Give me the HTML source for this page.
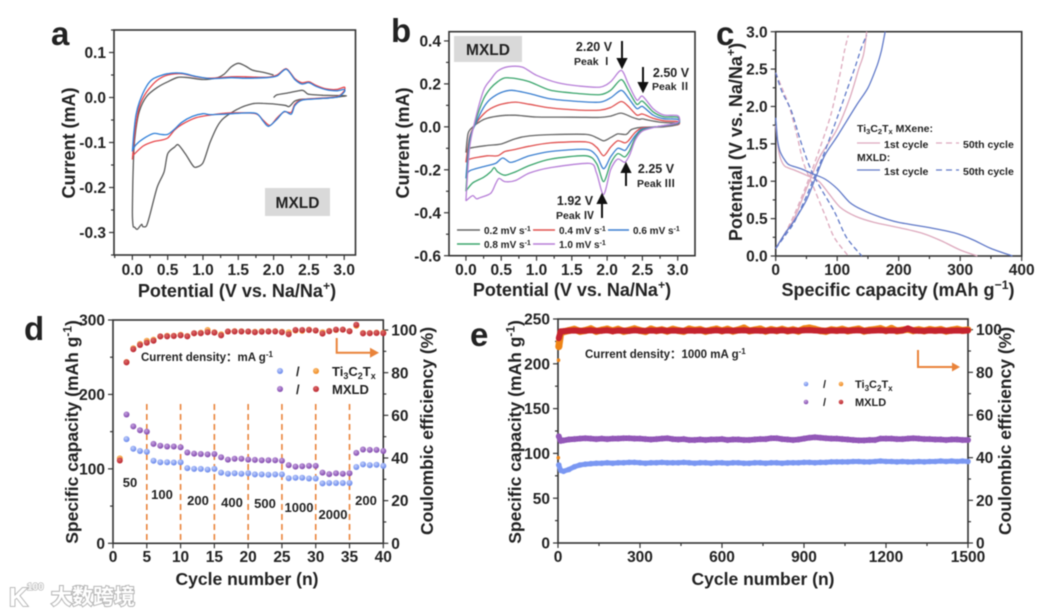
<!DOCTYPE html>
<html lang="en">
<head>
<meta charset="utf-8">
<title>MXLD electrochemical performance</title>
<style>
html,body{margin:0;padding:0;background:#fff;width:1060px;height:615px;overflow:hidden}
svg{display:block;filter:blur(.45px)}
text{font-family:"Liberation Sans","Noto Sans CJK SC",sans-serif;font-weight:bold;fill:#222}
</style>
</head>
<body>
<svg id="fig" xmlns="http://www.w3.org/2000/svg" width="1060" height="615" viewBox="0 0 1060 615">
<defs>
<radialGradient id="gBlue" cx=".4" cy=".35" r=".7"><stop offset="0" stop-color="#c3d0fb"/><stop offset="1" stop-color="#5f80ea"/></radialGradient>
<radialGradient id="gPurple" cx=".4" cy=".35" r=".7"><stop offset="0" stop-color="#c6a3e0"/><stop offset="1" stop-color="#7a3fa8"/></radialGradient>
<radialGradient id="gOrange" cx=".4" cy=".35" r=".7"><stop offset="0" stop-color="#fbc07a"/><stop offset="1" stop-color="#ee8416"/></radialGradient>
<radialGradient id="gRed" cx=".4" cy=".35" r=".7"><stop offset="0" stop-color="#dc6a6a"/><stop offset="1" stop-color="#b81f29"/></radialGradient>
</defs>

<g>
<text x="51" y="45" font-size="33">a</text>
<text x="391" y="42" font-size="33">b</text>
<text x="716" y="45" font-size="33">c</text>
<text x="24" y="340" font-size="33">d</text>
<text x="470" y="346" font-size="33">e</text>
</g>

<g id="pa"></g>
<g id="pb"></g>
<g id="pc"></g>
<g id="pd"></g>
<g id="pe"></g>

<g>
<rect x="265" y="188" width="65" height="28" fill="#d9d9d9"/>
<text x="297.500" y="208" font-size="15.500" text-anchor="middle">MXLD</text>
</g>

<g>
<rect x="454" y="36" width="68" height="26" fill="#d9d9d9"/>
<text x="488" y="55" font-size="15.500" text-anchor="middle">MXLD</text>
<text x="594" y="51" font-size="12.500" text-anchor="middle">2.20 V</text>
<text x="593" y="65" font-size="10.500" text-anchor="middle">Peak Ⅰ</text>
<path d="M622 41V60M618 59L622 67L626 59Z" stroke="#111" stroke-width="2" fill="#111"/>
<text x="671" y="77" font-size="12.500" text-anchor="middle">2.50 V</text>
<text x="671" y="90" font-size="10.500" text-anchor="middle">Peak Ⅱ</text>
<path d="M643 67V84M639 83L643 91L647 83Z" stroke="#111" stroke-width="2" fill="#111"/>
<text x="656" y="173" font-size="12.500" text-anchor="middle">2.25 V</text>
<text x="656" y="187" font-size="10.500" text-anchor="middle">Peak Ⅲ</text>
<path d="M626 186V171M622 172L626 164L630 172Z" stroke="#111" stroke-width="2" fill="#111"/>
<text x="575" y="205" font-size="12.500" text-anchor="middle">1.92 V</text>
<text x="575" y="219" font-size="10.500" text-anchor="middle">Peak Ⅳ</text>
<path d="M602 218V202M598 203L602 195L606 203Z" stroke="#111" stroke-width="2" fill="#111"/>
<g font-size="10">
<line x1="457" x2="480" y1="230" y2="230" stroke="#666" stroke-width="1.500"/>
<text x="484" y="234" font-size="10">0.2 mV s<tspan dy="-3" font-size="7">-1</tspan></text>
<line x1="533" x2="555" y1="230" y2="230" stroke="#e0504f" stroke-width="1.500"/>
<text x="559" y="234" font-size="10">0.4 mV s<tspan dy="-3" font-size="7">-1</tspan></text>
<line x1="608" x2="629" y1="230" y2="230" stroke="#3a7fd0" stroke-width="1.500"/>
<text x="633" y="234" font-size="10">0.6 mV s<tspan dy="-3" font-size="7">-1</tspan></text>
<line x1="457" x2="480" y1="244" y2="244" stroke="#3aa56c" stroke-width="1.500"/>
<text x="484" y="248" font-size="10">0.8 mV s<tspan dy="-3" font-size="7">-1</tspan></text>
<line x1="533" x2="555" y1="244" y2="244" stroke="#b77fd8" stroke-width="1.500"/>
<text x="559" y="248" font-size="10">1.0 mV s<tspan dy="-3" font-size="7">-1</tspan></text>
</g>
</g>

<g>
<text x="857" y="132" font-size="10.500">Ti<tspan dy="2" font-size="7.500">3</tspan><tspan dy="-2">C</tspan><tspan dy="2" font-size="7.500">2</tspan><tspan dy="-2">T</tspan><tspan dy="2" font-size="7.500">x</tspan><tspan dy="-2"> MXene:</tspan></text>
<line x1="857" x2="880" y1="143" y2="143" stroke="#dda9bd" stroke-width="1.300"/>
<text x="884" y="148" font-size="10.500">1st cycle</text>
<line x1="936" x2="959" y1="143" y2="143" stroke="#dda9bd" stroke-width="1.300" stroke-dasharray="6 4"/>
<text x="963" y="148" font-size="10.500">50th cycle</text>
<text x="857" y="161" font-size="10.500">MXLD:</text>
<line x1="857" x2="880" y1="170" y2="170" stroke="#6079c8" stroke-width="1.300"/>
<text x="884" y="175" font-size="10.500">1st cycle</text>
<line x1="936" x2="959" y1="170" y2="170" stroke="#6079c8" stroke-width="1.300" stroke-dasharray="6 4"/>
<text x="963" y="175" font-size="10.500">50th cycle</text>
</g>

<g>
<text x="141" y="361" font-size="11.500">Current density：mA g<tspan dy="-4" font-size="8">-1</tspan></text>
<path d="M336.700 338V352.700H372" fill="none" stroke="#e9833a" stroke-width="2"/>
<path d="M370 347.700L379 352.700L370 357.700Z" fill="#e9833a"/>
<circle cx="280" cy="371" r="3" fill="url(#gBlue)"/>
<text x="296" y="376" font-size="13">/</text>
<circle cx="316" cy="371" r="3" fill="url(#gOrange)"/>
<text x="332" y="376" font-size="13">Ti<tspan dy="3" font-size="9">3</tspan><tspan dy="-3">C</tspan><tspan dy="3" font-size="9">2</tspan><tspan dy="-3">T</tspan><tspan dy="3" font-size="9">x</tspan></text>
<circle cx="280" cy="389" r="3" fill="url(#gPurple)"/>
<text x="296" y="394" font-size="13">/</text>
<circle cx="316" cy="389" r="3" fill="url(#gRed)"/>
<text x="332" y="394" font-size="13">MXLD</text>
<g font-size="13" text-anchor="middle">
<text x="130" y="487" text-anchor="middle" font-size="13">50</text>
<text x="162" y="499" text-anchor="middle" font-size="13">100</text>
<text x="198" y="505" text-anchor="middle" font-size="13">200</text>
<text x="232" y="507" text-anchor="middle" font-size="13">400</text>
<text x="265" y="508" text-anchor="middle" font-size="13">500</text>
<text x="299" y="512" text-anchor="middle" font-size="13">1000</text>
<text x="333" y="519" text-anchor="middle" font-size="13">2000</text>
<text x="366" y="505" text-anchor="middle" font-size="13">200</text>
</g>
</g>

<g>
<text x="585" y="358" font-size="11.500">Current density：1000 mA g<tspan dy="-4" font-size="8">-1</tspan></text>
<path d="M918 350V367H954" fill="none" stroke="#e9833a" stroke-width="2"/>
<path d="M952 362.500L960 367L952 371.500Z" fill="#e9833a"/>
<circle cx="806" cy="384" r="2.300" fill="url(#gBlue)"/>
<text x="823" y="388" font-size="11">/</text>
<circle cx="841" cy="384" r="2.300" fill="url(#gOrange)"/>
<text x="855" y="388" font-size="11">Ti<tspan dy="3" font-size="8">3</tspan><tspan dy="-3">C</tspan><tspan dy="3" font-size="8">2</tspan><tspan dy="-3">T</tspan><tspan dy="3" font-size="8">x</tspan></text>
<circle cx="806" cy="402" r="2.300" fill="url(#gPurple)"/>
<text x="823" y="406" font-size="11">/</text>
<circle cx="841" cy="402" r="2.300" fill="url(#gRed)"/>
<text x="855" y="406" font-size="11">MXLD</text>
</g>

<g>
<text x="9" y="606" font-size="26" style="fill:#fff;stroke:#b4b4b4;stroke-width:1.800px;paint-order:stroke">K</text>
<text x="27" y="590" font-size="10" style="fill:#fff;stroke:#b4b4b4;stroke-width:1.300px;paint-order:stroke">100</text>
<text x="51" y="604" font-size="21" style="fill:#fff;stroke:#b4b4b4;stroke-width:2px;paint-order:stroke">大数跨境</text>
</g>
</svg>

<script>
// ---------- panel a data (V, mA) ----------
const aCycle1 = [[2,0],[2.05,.006],[2.2,.01],[2.4,.016],[2.45,.012],[2.5,.007],[2.7,.005],[3,.004],[3,.003],[2.7,-.002],[2.4,-.004],[2.3,-.008],[2.22,-.02],[2.15,-.017],[1.85,-.013],[1.7,-.014],[1.5,-.025],[1.3,-.045],[1.2,-.065],[1.1,-.1],[1,-.145],[.9,-.155],[.85,-.15],[.75,-.125],[.65,-.105],[.6,-.11],[.5,-.125],[.45,-.165],[.35,-.2],[.25,-.26],[.2,-.285],[.15,-.287],[.13,-.282],[.07,-.293],[.03,-.288],[.01,-.285],[0,-.25],[.02,-.12],[.05,-.07],[.1,-.03],[.2,.002],[.35,.022],[.5,.035],[.65,.045],[.8,.044],[1,.04],[1.2,.044],[1.3,.052],[1.4,.068],[1.5,.076],[1.6,.07],[1.7,.061],[1.85,.056],[2,.05]];
const aCycle2 = [[0,-.138],[.02,-.1],[.05,-.06],[.1,-.02],[.2,.012],[.35,.038],[.5,.05],[.7,.053],[.9,.046],[1.1,.043],[1.4,.046],[1.6,.046],[1.9,.045],[2.05,.05],[2.18,.064],[2.3,.042],[2.4,.033],[2.5,.035],[2.6,.027],[2.75,.019],[2.9,.018],[3,.023],[3,.015],[2.9,.002],[2.6,-.002],[2.4,-.005],[2.3,-.015],[2.25,-.033],[2.15,-.032],[2.05,-.045],[1.95,-.062],[1.85,-.05],[1.75,-.036],[1.5,-.034],[1.3,-.035],[1.1,-.039],[.9,-.045],[.7,-.06],[.6,-.072],[.5,-.09],[.4,-.095],[.3,-.098],[.15,-.108],[0,-.13]];
const aCycle3 = [[0,-.12],[.02,-.08],[.05,-.04],[.1,-.01],[.2,.025],[.3,.042],[.5,.053],[.7,.054],[.9,.047],[1.1,.042],[1.4,.044],[1.6,.043],[1.9,.044],[2.05,.048],[2.18,.063],[2.3,.04],[2.4,.03],[2.5,.033],[2.6,.025],[2.75,.017],[2.9,.015],[3,.018],[3,.012],[2.9,.001],[2.6,-.003],[2.4,-.006],[2.3,-.018],[2.25,-.037],[2.15,-.031],[2.05,-.048],[1.93,-.064],[1.85,-.052],[1.75,-.035],[1.5,-.035],[1.3,-.037],[1.1,-.038],[1,-.036],[.85,-.042],[.7,-.055],[.6,-.07],[.5,-.082],[.4,-.082],[.3,-.08],[.15,-.092],[.05,-.105],[0,-.118]];
const aXTicks = [0,.5,1,1.5,2,2.5,3];
const aXLabels = ['0.0','0.5','1.0','1.5','2.0','2.5','3.0'];
const aYTicks = [-.3,-.2,-.1,0,.1];
const aYLabels = ['-0.3','-0.2','-0.1','0.0','0.1'];

// ---------- panel b data (V, mA) ----------
const bRate02 = [[0,-.12],[.03,-.03],[.1,0],[.2,.025],[.3,.04],[.5,.052],[.7,.054],[1,.046],[1.5,.045],[1.9,.044],[2.05,.05],[2.2,.064],[2.35,.045],[2.45,.035],[2.5,.037],[2.6,.03],[2.8,.02],[3,.018],[3,.01],[2.8,0],[2.5,-.002],[2.35,-.012],[2.27,-.035],[2.15,-.033],[2.05,-.05],[1.95,-.065],[1.85,-.05],[1.7,-.035],[1.2,-.036],[.9,-.042],[.7,-.055],[.5,-.08],[.3,-.087],[.05,-.1],[0,-.12]];
const bRate04 = [[0,-.165],[.05,-.05],[.12,.005],[.25,.06],[.35,.085],[.5,.105],[.7,.115],[.9,.105],[1.2,.088],[1.6,.078],[1.9,.078],[2.05,.09],[2.2,.118],[2.3,.095],[2.42,.055],[2.5,.06],[2.65,.04],[2.8,.028],[3,.025],[3,.012],[2.7,0],[2.5,-.005],[2.4,-.025],[2.3,-.065],[2.25,-.075],[2.15,-.065],[2.05,-.095],[1.95,-.135],[1.85,-.095],[1.7,-.07],[1.2,-.075],[.9,-.09],[.7,-.105],[.55,-.115],[.45,-.135],[.3,-.135],[.05,-.15],[0,-.165]];
const bRate06 = [[0,-.24],[.05,-.06],[.13,.01],[.25,.09],[.35,.13],[.5,.16],[.65,.17],[.9,.155],[1.2,.13],[1.6,.118],[1.9,.115],[2.05,.135],[2.2,.17],[2.3,.135],[2.42,.085],[2.5,.095],[2.65,.055],[2.8,.038],[3,.035],[3,.015],[2.7,0],[2.5,-.01],[2.4,-.04],[2.3,-.09],[2.25,-.11],[2.15,-.1],[2.05,-.14],[1.95,-.195],[1.85,-.135],[1.7,-.105],[1.2,-.115],[.9,-.135],[.7,-.16],[.62,-.165],[.52,-.145],[.42,-.17],[.25,-.185],[.05,-.205],[0,-.235]];
const bRate08 = [[0,-.3],[.05,-.08],[.13,.02],[.25,.13],[.35,.18],[.45,.21],[.55,.228],[.7,.225],[.9,.21],[1.2,.17],[1.6,.155],[1.9,.15],[2.05,.17],[2.2,.22],[2.3,.17],[2.42,.105],[2.5,.12],[2.65,.07],[2.8,.047],[3,.045],[3,.018],[2.7,0],[2.5,-.015],[2.4,-.05],[2.32,-.11],[2.25,-.14],[2.15,-.125],[2.05,-.17],[1.95,-.255],[1.85,-.17],[1.7,-.135],[1.2,-.15],[.9,-.18],[.7,-.21],[.55,-.225],[.45,-.21],[.4,-.19],[.35,-.21],[.25,-.235],[.1,-.26],[.02,-.29],[0,-.3]];
const bRate10 = [[0,-.345],[.05,-.1],[.13,.03],[.25,.17],[.35,.22],[.45,.26],[.6,.28],[.8,.278],[1,.24],[1.3,.205],[1.6,.19],[1.9,.185],[2.05,.21],[2.2,.263],[2.3,.2],[2.42,.125],[2.5,.143],[2.65,.085],[2.8,.055],[3,.052],[3,.02],[2.7,0],[2.5,-.02],[2.4,-.06],[2.32,-.13],[2.25,-.165],[2.15,-.15],[2.05,-.2],[1.95,-.315],[1.85,-.215],[1.75,-.17],[1.2,-.19],[.9,-.215],[.7,-.25],[.55,-.255],[.47,-.24],[.42,-.265],[.35,-.31],[.2,-.33],[.15,-.335],[.1,-.32],[.05,-.33],[0,-.345]];
const bXTicks = [0,.5,1,1.5,2,2.5,3];
const bXLabels = ['0.0','0.5','1.0','1.5','2.0','2.5','3.0'];
const bYTicks = [-.6,-.4,-.2,0,.2,.4];
const bYLabels = ['-0.6','-0.4','-0.2','0.0','0.2','0.4'];

// ---------- panel c data (mAh/g, V) ----------
const cMxldDis1 = [[0,1.85],[3,1.55],[7,1.4],[15,1.28],[22,1.22],[40,1.17],[60,1.1],[80,1.03],[100,.9],[120,.72],[140,.62],[170,.52],[200,.45],[250,.38],[290,.31],[320,.22],[350,.1],[385,0]];
const cMxldChg1 = [[0,.1],[15,.3],[30,.47],[50,.75],[65,1.05],[80,1.35],[100,1.6],[130,2],[150,2.25],[165,2.55],[172,2.75],[178,3]];
const cTiDis1 = [[0,1.75],[4,1.45],[8,1.3],[15,1.2],[30,1.15],[50,1.08],[70,1],[85,.85],[105,.65],[130,.53],[160,.45],[200,.38],[240,.3],[270,.2],[300,.08],[328,0]];
const cTiChg1 = [[0,.1],[15,.3],[30,.5],[50,.9],[70,1.3],[85,1.5],[100,1.7],[120,2.1],[135,2.5],[143,2.7],[148,3]];
const cTiChg50 = [[0,.1],[15,.3],[30,.55],[50,.95],[70,1.4],[90,1.9],[105,2.45],[112,2.75],[118,2.95]];
const cMxldChg50 = [[0,.1],[15,.27],[30,.45],[50,.8],[65,1.1],[80,1.4],[100,1.85],[115,2.2],[130,2.55],[140,2.8],[148,2.95]];
const cTiDis50 = [[0,2.45],[10,2.25],[22,2],[35,1.6],[45,1.25],[60,.95],[80,.55],[95,.25],[118,0]];
const cMxldDis50 = [[0,2.45],[10,2.2],[25,1.95],[40,1.55],[55,1.2],[70,.95],[95,.6],[115,.25],[140,0]];
const cXTicks = [0,100,200,300,400];
const cXLabels = ['0','100','200','300','400'];
const cYTicks = [0,.5,1,1.5,2,2.5,3];
const cYLabels = ['0.0','0.5','1.0','1.5','2.0','2.5','3.0'];

// ---------- panel d data ----------
const dCycles = [1,2,3,4,5,6,7,8,9,10,11,12,13,14,15,16,17,18,19,20,21,22,23,24,25,26,27,28,29,30,31,32,33,34,35,36,37,38,39,40];
const dTiCapacity = [null,140,127,124,123,111,109,109,108.5,109,101,100,100,99,100,95,93.5,94,93.5,94,92.5,92.5,92,92.5,92.5,87.5,88,88,87,87,80.5,81,81,81,81,102.5,106,105,105.5,104];
const dMxldCapacity = [null,173,157,152,150,133.5,131,130,130,129,122,120.5,120,119.5,120,115.5,112.5,113.5,113.5,112.5,112,111.5,111.5,111.5,111,105,103,103.5,104,104,95,93,94,93.5,94,121.5,126,125.5,125.5,124];
const dTiCE = [39.8,85,91.5,93.5,95,95.5,97,97.3,97.3,97.8,97.2,98.5,98.8,100,99,98,99.3,99.5,99.4,99.3,99.2,99.4,99.4,99.5,99.2,99,99.8,99.7,100.2,99.8,99,99.6,100,100.2,99.5,102,98.6,98.6,98.8,98.7];
const dMxldCE = [38.8,84.8,91,93,94,95,97,97,97.2,97.5,97,98.5,98.5,99,98.8,97.5,99.3,99.3,99.3,99.3,99,99.2,99.3,99.3,99,98,100,100,100,99.8,98.3,99.4,100.2,100.2,99.4,102.5,98.4,98.5,98.6,98.5];
const dDividers = [5,10,15,20,25,30,35];
const dXTicks = [0,5,10,15,20,25,30,35,40];
const dXLabels = ['0','5','10','15','20','25','30','35','40'];
const dYTicks = [0,100,200,300];
const dYLabels = ['0','100','200','300'];
const dY2Ticks = [0,20,40,60,80,100];
const dY2Labels = ['0','20','40','60','80','100'];

// ---------- panel e data ----------
const eCycles = [3,10,20,40,60,80,100,120,140,160,180,200,220,240,260,280,300,320,340,360,380,400,420,440,460,480,500,520,540,560,580,600,620,640,660,680,700,720,740,760,780,800,820,840,860,880,900,920,940,960,980,1000,1020,1040,1060,1080,1100,1120,1140,1160,1180,1200,1220,1240,1260,1280,1300,1320,1340,1360,1380,1400,1420,1440,1460,1480,1500];
const eTiCapacity = [87,81,80,82,85,87,88,88.5,89,89,89.5,89,89.5,89.5,90,90,89.5,89,89.5,89.5,90,89.5,89.5,89.5,90,89.5,89,89.5,89.5,89,89.5,89.5,89,89.5,89.5,89,89,89.5,89.5,89,89.5,89.5,89,89.5,89.5,89.5,90,90,89.5,90,90,90.5,90.5,90.5,90.5,91,91,90.5,90.5,91,91.5,91,91,90.5,91,90.5,90.5,91,90.5,91,91,91.5,91,91.5,91,91.5,91];
const eMxldCapacity = [119,114,114.5,115.5,116,116.5,117,116.5,116,116.5,116,116.5,116.5,117,117,116.5,116.5,116,115.5,116,116.5,117,116,115.5,116,115,115,115.5,115,115.5,115.5,116,115,115.5,115.5,115,115,115.5,116,116,117,117,116,115.5,115,115.5,116.5,117.5,118,117.5,117,116.5,116.5,116,115.5,115,114.5,114.5,115,115,116.5,116.5,116.5,116,116,116.5,117,116.5,116,116,115.5,115.5,115,115.5,115.5,115,115];
const eTiCE = [92,98.5,99,99.6,100.2,99.2,99.6,100.4,99.2,99.8,100.3,99.4,100.2,99.2,99.7,100.4,99.6,99.1,100.3,99.5,100,99.3,100.2,99.6,99.2,100.3,99.7,100.1,99.2,99.8,100.3,99.4,100.2,99.3,99.9,100.8,99.4,99.9,100.3,99.3,100.1,99.5,100.2,99.4,100,99.3,100.4,100.8,100.2,99.5,99.2,100,99.6,100.2,99.4,99.9,100.3,99.3,99.8,100.1,100.5,99.5,100.6,99.4,99.8,100.2,99.5,100,99.4,100.1,99.6,100.1,99.3,99.8,100.2,99.6,99.9];
const eMxldCE = [96,99.2,99.3,99.5,99.6,99.4,99.5,99.7,99.4,99.5,99.7,99.3,99.6,99.5,99.4,99.7,99.5,99.4,99.6,99.5,99.7,99.4,99.6,99.5,99.4,99.6,99.5,99.6,99.4,99.5,99.7,99.4,99.6,99.5,99.6,99.7,99.5,99.6,99.5,99.4,99.6,99.5,99.7,99.4,99.6,99.5,99.7,99.8,99.6,99.5,99.4,99.6,99.5,99.6,99.5,99.6,99.7,99.4,99.5,99.6,99.7,99.5,99.6,99.5,99.6,100.6,99.6,99.5,99.4,99.6,99.5,99.6,99.4,99.5,99.6,99.5,99.6];
const eEarlyCycles = [1,2,5];
const eEarlyTiCE = [40,85.7,93.4];
const eXTicks = [0,300,600,900,1200,1500];
const eXLabels = ['0','300','600','900','1200','1500'];
const eYTicks = [0,50,100,150,200,250];
const eYLabels = ['0','50','100','150','200','250'];
const eY2Ticks = [0,20,40,60,80,100];
const eY2Labels = ['0','20','40','60','80','100'];

// ---------- drawing helpers ----------
const NS = 'http://www.w3.org/2000/svg';
const AXIS = '#333';
function make(tag, parent, attrs, name) {
  const el = document.createElementNS(NS, tag);
  for (const k in attrs) el.setAttribute(k, attrs[k]);
  
  
  parent.appendChild(el);
  return el;
}
function label(parent, name, x, y, parts, size, anchor, rot) {
  const attrs = {x: x, y: y, 'font-size': size, 'text-anchor': anchor || 'middle'};
  if (rot) attrs.transform = 'rotate(' + rot + ' ' + x + ' ' + y + ')';
  const t = make('text', parent, attrs, name);
  let prev = 0;
  (Array.isArray(parts) ? parts : [[parts, 0]]).forEach(function (p) {
    const s = document.createElementNS(NS, 'tspan');
    s.textContent = p[0];
    const shift = p[1] * size * 0.38;
    s.setAttribute('dy', shift - prev);
    if (p[1]) s.setAttribute('font-size', size * 0.68);
    prev = shift;
    t.appendChild(s);
  });
  return t;
}
function axes(parent, c) {
  const sx = v => c.L + (v - c.xd[0]) / (c.xd[1] - c.xd[0]) * (c.R - c.L);
  const sy = v => c.B - (v - c.yd[0]) / (c.yd[1] - c.yd[0]) * (c.B - c.T);
  const sy2 = c.y2d ? (v => c.B - (v - c.y2d[0]) / (c.y2d[1] - c.y2d[0]) * (c.B - c.T)) : null;
  const tick = (x1, y1, x2, y2, name) => make('line', parent, {x1, y1, x2, y2, stroke: AXIS, 'stroke-width': 1.2}, name);
  const minors = (ticks, d) => {
    const step = ticks[1] - ticks[0], out = [];
    for (let v = ticks[0] - step / 2; v >= d[0] - 1e-9; v -= step) out.push(v);
    for (let v = ticks[0] + step / 2; v <= d[1] + 1e-9; v += step) out.push(v);
    return out;
  };
  c.xt.forEach((v, i) => {
    tick(sx(v), c.B, sx(v), c.B + 5, 'x-tick');
    label(parent, 'x-tick-label', sx(v), c.xtb, c.xl[i], c.tf);
  });
  if (c.xMinor) minors(c.xt, c.xd).forEach(v => {
    tick(sx(v), c.B, sx(v), c.B + 3, 'x-minor-tick');
  });
  c.yt.forEach((v, i) => {
    tick(c.L, sy(v), c.L - 5, sy(v), 'y-tick');
    label(parent, 'y-tick-label', c.L - 8, sy(v) + c.tf * 0.36, c.yl[i], c.tf, 'end');
  });
  minors(c.yt, c.yd).forEach(v => {
    tick(c.L, sy(v), c.L - 3, sy(v), 'y-minor-tick');
  });
  if (sy2) {
    c.y2t.forEach((v, i) => {
      tick(c.R, sy2(v), c.R + 5, sy2(v), 'right-y-tick');
      label(parent, 'right-y-tick-label', c.R + 8, sy2(v) + c.tf * 0.36, c.y2l[i], c.tf, 'start');
    });
    minors(c.y2t, c.y2d).forEach(v => {
      tick(c.R, sy2(v), c.R + 3, sy2(v), 'right-y-minor-tick');
    });
  }
  make('rect', parent, {x: c.L, y: c.T, width: c.R - c.L, height: c.B - c.T, fill: 'none', stroke: AXIS, 'stroke-width': 1.6}, 'plot-frame');
  label(parent, 'x-axis-title', c.xtx[0], c.xtx[1], c.xtitle, c.tt);
  label(parent, 'y-axis-title', c.ytx[0], c.ytx[1], c.ytitle, c.tt, 'middle', -90);
  if (c.y2title) label(parent, 'right-y-axis-title', c.y2tx[0], c.y2tx[1], c.y2title, c.tt, 'middle', -90);
  return {sx, sy, sy2};
}
// Smooth Catmull-Rom path through the scaled data points.
function smoothPath(pts) {
  const k = 1 / 7;
  let d = 'M' + pts[0][0].toFixed(1) + ' ' + pts[0][1].toFixed(1);
  for (let i = 0; i < pts.length - 1; i++) {
    const p0 = pts[Math.max(i - 1, 0)], p1 = pts[i], p2 = pts[i + 1], p3 = pts[Math.min(i + 2, pts.length - 1)];
    d += 'C' + (p1[0] + (p2[0] - p0[0]) * k).toFixed(1) + ' ' + (p1[1] + (p2[1] - p0[1]) * k).toFixed(1) + ' ' +
      (p2[0] - (p3[0] - p1[0]) * k).toFixed(1) + ' ' + (p2[1] - (p3[1] - p1[1]) * k).toFixed(1) + ' ' +
      p2[0].toFixed(1) + ' ' + p2[1].toFixed(1);
  }
  return d;
}
function curve(parent, pts, s, color, name, dash, w) {
  const attrs = {
    d: smoothPath(pts.map(p => [s.sx(p[0]), s.sy(p[1])])),
    fill: 'none', stroke: color, 'stroke-width': w || 1.3, 'stroke-linejoin': 'round'
  };
  if (dash) attrs['stroke-dasharray'] = dash;
  make('path', parent, attrs, name);
}
function dots(parent, xs, ys, sx, sy, fill, r, name) {
  xs.forEach((x, i) => {
    if (ys[i] === null) return;
    make('circle', parent, {cx: sx(x).toFixed(1), cy: sy(ys[i]).toFixed(1), r: r, fill: fill}, name);
  });
}
function band(parent, xs, ys, sx, sy, color, w, name) {
  make('polyline', parent, {
    points: xs.map((x, i) => sx(x).toFixed(1) + ',' + sy(ys[i]).toFixed(1)).join(' '),
    fill: 'none', stroke: color, 'stroke-width': w, 'stroke-linejoin': 'round'
  }, name);
}

const naTitle = [['Potential (V vs. Na/Na', 0], ['+', -1], [')', 0]];
const capTitle = [['Specific capacity (mAh g', 0], ['-1', -1], [')', 0]];

// ---------- panel a ----------
const pa = document.getElementById('pa');
const sa = axes(pa, {L: 114, R: 355.5, T: 30, B: 255, xd: [-.26, 3.16], yd: [-.35, .15],
  xt: aXTicks, xl: aXLabels, yt: aYTicks, yl: aYLabels, xMinor: true, xtb: 275, tf: 15.5, tt: 18,
  xtitle: naTitle, xtx: [237, 297], ytitle: 'Current (mA)', ytx: [75, 143]});
curve(pa, aCycle1, sa, '#5a5a5a', 'cv-cycle-1');
curve(pa, aCycle2, sa, '#e8474c', 'cv-cycle-2');
curve(pa, aCycle3, sa, '#2f7fd8', 'cv-cycle-3');

// ---------- panel b ----------
const pb = document.getElementById('pb');
const sb = axes(pb, {L: 449, R: 695, T: 31.7, B: 255.7, xd: [-.24, 3.245], yd: [-.6, .443],
  xt: bXTicks, xl: bXLabels, yt: bYTicks, yl: bYLabels, xMinor: true, xtb: 275, tf: 15.5, tt: 18,
  xtitle: naTitle, xtx: [572, 296], ytitle: 'Current (mA)', ytx: [409, 143]});
curve(pb, bRate02, sb, '#666', 'cv-0.2-mv-s');
curve(pb, bRate04, sb, '#e0504f', 'cv-0.4-mv-s');
curve(pb, bRate06, sb, '#3a7fd0', 'cv-0.6-mv-s');
curve(pb, bRate08, sb, '#3aa56c', 'cv-0.8-mv-s');
curve(pb, bRate10, sb, '#b77fd8', 'cv-1.0-mv-s');

// ---------- panel c ----------
const pc = document.getElementById('pc');
const sc = axes(pc, {L: 775.7, R: 1021.7, T: 31.7, B: 256, xd: [0, 400], yd: [0, 3],
  xt: cXTicks, xl: cXLabels, yt: cYTicks, yl: cYLabels, xMinor: true, xtb: 275, tf: 15.5, tt: 18,
  xtitle: [['Specific capacity (mAh g', 0], ['−1', -1], [')', 0]], xtx: [898, 296],
  ytitle: [['Potential (V vs. Na/Na', 0], ['+', -1], [')', 0]], ytx: [742, 142]});
const tiPink = '#dda9bd', mxBlue = '#6079c8';
curve(pc, cTiDis1, sc, tiPink, 'ti3c2tx-1st-discharge');
curve(pc, cTiChg1, sc, tiPink, 'ti3c2tx-1st-charge');
curve(pc, cTiDis50, sc, tiPink, 'ti3c2tx-50th-discharge', '5 3');
curve(pc, cTiChg50, sc, tiPink, 'ti3c2tx-50th-charge', '5 3');
curve(pc, cMxldDis1, sc, mxBlue, 'mxld-1st-discharge');
curve(pc, cMxldChg1, sc, mxBlue, 'mxld-1st-charge');
curve(pc, cMxldDis50, sc, mxBlue, 'mxld-50th-discharge', '5 3');
curve(pc, cMxldChg50, sc, mxBlue, 'mxld-50th-charge', '5 3');

// ---------- panel d ----------
const pd = document.getElementById('pd');
const sd = axes(pd, {L: 113, R: 383.3, T: 320, B: 543.3, xd: [0, 40], yd: [0, 300], y2d: [0, 104.7],
  xt: dXTicks, xl: dXLabels, yt: dYTicks, yl: dYLabels, y2t: dY2Ticks, y2l: dY2Labels, xMinor: false, xtb: 562, tf: 15.5, tt: 17.5,
  xtitle: 'Cycle number (n)', xtx: [247, 585], ytitle: capTitle, ytx: [78, 432],
  y2title: 'Coulombic efficiency (%)', y2tx: [433, 431]});
dDividers.forEach(c => {
  make('line', pd, {x1: sd.sx(c), x2: sd.sx(c), y1: 404, y2: 543, stroke: '#e9833a', 'stroke-width': 1.6, 'stroke-dasharray': '6 4'}, 'rate-divider');
});
dots(pd, dCycles, dTiCapacity, sd.sx, sd.sy, 'url(#gBlue)', 3, 'ti3c2tx-capacity-point');
dots(pd, dCycles, dMxldCapacity, sd.sx, sd.sy, 'url(#gPurple)', 3, 'mxld-capacity-point');
dots(pd, dCycles, dTiCE, sd.sx, sd.sy2, 'url(#gOrange)', 3, 'ti3c2tx-efficiency-point');
dots(pd, dCycles, dMxldCE, sd.sx, sd.sy2, 'url(#gRed)', 3, 'mxld-efficiency-point');

// ---------- panel e ----------
const pe = document.getElementById('pe');
const se = axes(pe, {L: 558, R: 968, T: 319, B: 543, xd: [0, 1500], yd: [0, 250], y2d: [0, 105],
  xt: eXTicks, xl: eXLabels, yt: eYTicks, yl: eYLabels, y2t: eY2Ticks, y2l: eY2Labels, xMinor: true, xtb: 562, tf: 15.5, tt: 17.5,
  xtitle: 'Cycle number (n)', xtx: [763, 585], ytitle: capTitle, ytx: [521, 432],
  y2title: 'Coulombic efficiency (%)', y2tx: [1011, 431]});
band(pe, eCycles, eTiCapacity, se.sx, se.sy, '#7f9bf3', 5, 'ti3c2tx-capacity-band');
dots(pe, eCycles, eTiCapacity, se.sx, se.sy, '#7a97f2', 2.8, 'ti3c2tx-capacity-point');
band(pe, eCycles, eMxldCapacity, se.sx, se.sy, '#8a4bb0', 5.5, 'mxld-capacity-band');
dots(pe, eCycles, eMxldCapacity, se.sx, se.sy, '#9358b8', 3, 'mxld-capacity-point');
dots(pe, eEarlyCycles, eEarlyTiCE, se.sx, se.sy2, '#ee8416', 1.8, 'ti3c2tx-efficiency-early-point');
band(pe, eCycles, eTiCE, se.sx, se.sy2, '#ee8416', 7, 'ti3c2tx-efficiency-band');
dots(pe, eCycles, eTiCE, se.sx, se.sy2, '#ee8416', 3.5, 'ti3c2tx-efficiency-point');
band(pe, eCycles, eMxldCE, se.sx, se.sy2, '#c4232f', 6, 'mxld-efficiency-band');
dots(pe, eCycles, eMxldCE, se.sx, se.sy2, '#c4232f', 3, 'mxld-efficiency-point');
</script>
</body>
</html>
